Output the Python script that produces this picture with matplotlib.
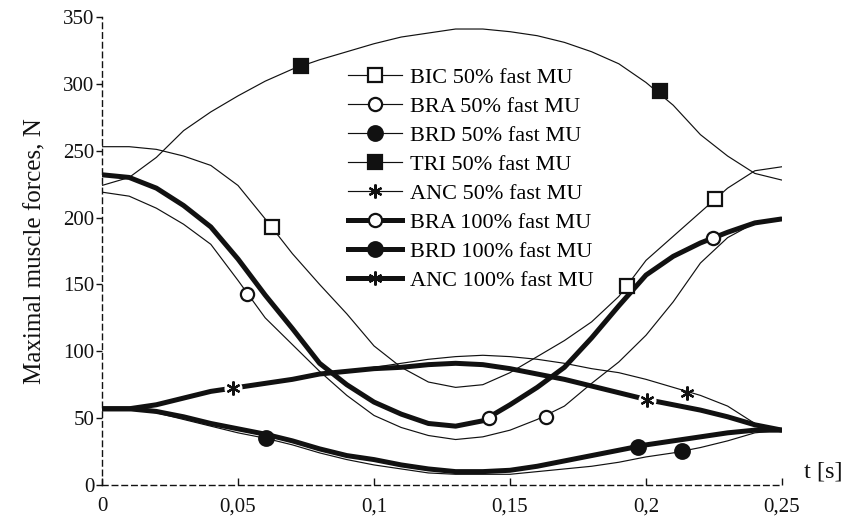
import matplotlib
matplotlib.use("Agg")
import matplotlib.pyplot as plt
from matplotlib.lines import Line2D

# time grid (s) and muscle forces (N)
t = [0, 0.01, 0.02, 0.03, 0.04, 0.05, 0.06, 0.07, 0.08, 0.09, 0.10, 0.11, 0.12,
     0.13, 0.14, 0.15, 0.16, 0.17, 0.18, 0.19, 0.20, 0.21, 0.22, 0.23, 0.24, 0.25]

bic50 = [253, 253, 251, 246, 239, 224, 199, 173, 150, 128, 104, 88, 77,
         73, 75, 84, 96, 108, 122, 141, 168, 186, 204, 222, 235, 238]
bra50 = [219, 216, 207, 195, 180, 153, 125, 105, 85, 67, 52, 43, 37,
         34, 36, 41, 49, 59, 76, 92, 112, 137, 166, 185, 196, 200]
brd50 = [57, 57, 54, 49, 44, 39, 35, 30, 24, 19, 15, 12, 9,
         8, 8, 8, 10, 12, 14, 17, 21, 24, 28, 33, 39, 41]
tri50 = [224, 230, 245, 265, 279, 291, 302, 311, 318, 324, 330, 335, 338,
         341, 341, 339, 336, 331, 324, 315, 301, 284, 262, 246, 233, 228]
anc50 = [57, 57, 60, 65, 70, 73, 76, 79, 83, 85, 88, 91, 94,
         96, 97, 96, 94, 91, 87, 84, 79, 73, 67, 59, 46, 41]
bra100 = [232, 230, 222, 209, 193, 169, 142, 117, 91, 75, 62, 53, 46,
          44, 48, 60, 73, 88, 110, 134, 157, 171, 181, 189, 196, 199]
brd100 = [57, 57, 55, 51, 46, 42, 38, 33, 27, 22, 19, 15, 12,
          10, 10, 11, 14, 18, 22, 26, 30, 33, 36, 39, 41, 41]
anc100 = [57, 57, 60, 65, 70, 73, 76, 79, 83, 85, 87, 88, 90,
          91, 90, 87, 83, 79, 74, 69, 64, 60, 56, 51, 45, 41]

# marker positions (t, N)
bic50_mt, bic50_mf = [0.0625, 0.193, 0.2254], [193, 149, 214]
bra50_mt, bra50_mf = [0.0533, 0.1632], [143, 51]
brd50_mt, brd50_mf = [0.0603, 0.2132], [35, 25.4]
tri50_mt, tri50_mf = [0.0732, 0.2051], [313, 295]
anc50_mt, anc50_mf = [0.2151], [69]
bra100_mt, bra100_mf = [0.1423, 0.2246], [50, 185]
brd100_mt, brd100_mf = [0.1971], [28.4]
anc100_mt, anc100_mf = [0.0482, 0.2004], [72.6, 63.6]

xtick_vals = [0, 0.05, 0.1, 0.15, 0.2, 0.25]
xtick_labels = ["0", "0,05", "0,1", "0,15", "0,2", "0,25"]
ytick_vals = [0, 50, 100, 150, 200, 250, 300, 350]

plt.rcParams["font.family"] = ["Liberation Serif", "DejaVu Serif"]

K = "#111111"
THIN = 0.85
THICK = 3.6
ASTER = (6, 2, 0)

fig = plt.figure(figsize=(8.47, 5.29), dpi=100)
ax = fig.add_axes([0.1204, 0.0832, 0.8029, 0.8847])

series = [
    # values, marker t, marker f, lw, marker, face, size, label
    (bic50, bic50_mt, bic50_mf, THIN, "s", "white", 9.5, "BIC 50% fast MU"),
    (bra50, bra50_mt, bra50_mf, THIN, "o", "white", 9.5, "BRA 50% fast MU"),
    (brd50, brd50_mt, brd50_mf, THIN, "o", K, 10.5, "BRD 50% fast MU"),
    (tri50, tri50_mt, tri50_mf, THIN, "s", K, 10.5, "TRI 50% fast MU"),
    (anc50, anc50_mt, anc50_mf, THIN, ASTER, K, 10, "ANC 50% fast MU"),
    (bra100, bra100_mt, bra100_mf, THICK, "o", "white", 9.5, "BRA 100% fast MU"),
    (brd100, brd100_mt, brd100_mf, THICK, "o", K, 10.5, "BRD 100% fast MU"),
    (anc100, anc100_mt, anc100_mf, THICK, ASTER, K, 10, "ANC 100% fast MU"),
]

handles = []
for vals, mt, mf, lw, mk, face, ms, lab in series:
    ax.plot(t, vals, color=K, lw=lw, solid_capstyle="butt", zorder=2)
    if mk == ASTER and lw == THICK:
        # white gap around the asterisks on the thick line
        ax.plot(mt, mf, ls="none", marker="o", ms=ms + 3, mfc="white",
                mec="none", zorder=3)
    ax.plot(mt, mf, ls="none", marker=mk, ms=ms, mfc=face, mec=K,
            mew=1.6, zorder=4)
    handles.append(Line2D([], [], color=K, lw=lw, marker=mk, ms=ms,
                          mfc=face, mec=K, mew=1.6, label=lab))

ax.set_xlim(0, 0.25)
ax.set_ylim(0, 350)
ax.set_xticks(xtick_vals)
ax.set_xticklabels(xtick_labels)
ax.set_yticks(ytick_vals)

for side in ["top", "right"]:
    ax.spines[side].set_visible(False)
for side in ["left", "bottom"]:
    ax.spines[side].set_linestyle((0, (4, 3)))
    ax.spines[side].set_linewidth(1.0)
    ax.spines[side].set_color(K)

ax.tick_params(axis="y", direction="out", length=4, width=1, pad=1.5,
               labelsize=15, colors=K)
ax.tick_params(axis="x", direction="in", length=5, width=1, pad=9,
               labelsize=15, colors=K)

ax.set_ylabel("Maximal muscle forces, N", fontsize=18, color=K, labelpad=12)
ax.set_xlabel("t [s]", fontsize=17.5, color=K)
ax.xaxis.set_label_coords(1.06, 0.05)

ax.legend(handles=handles, loc="upper left", bbox_to_anchor=(0.398, 0.893),
          bbox_transform=fig.transFigure, frameon=False, fontsize=16,
          handlelength=2.4, handletextpad=0.4, labelspacing=0.38,
          borderpad=0, numpoints=1)

fig.savefig("out.png", dpi=100)
